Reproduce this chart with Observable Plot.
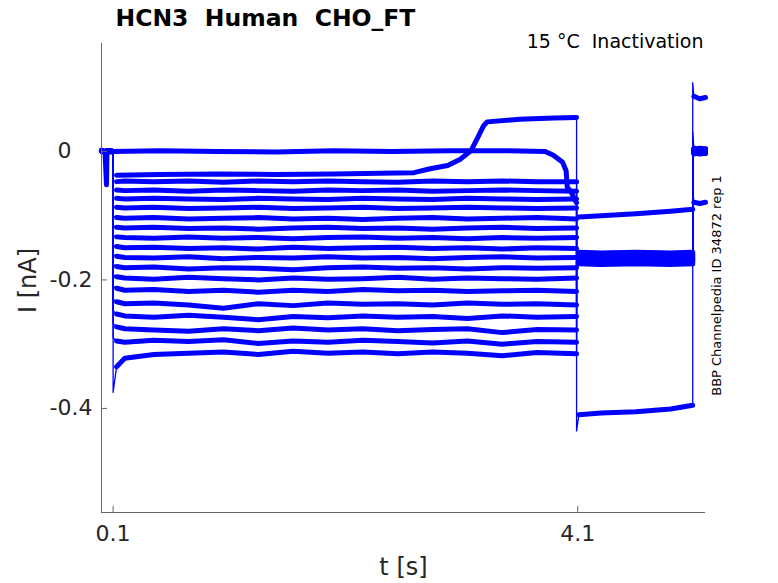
<!DOCTYPE html>
<html><head><meta charset="utf-8">
<script src="https://cdn.jsdelivr.net/npm/d3@7"></script>
<script src="https://cdn.jsdelivr.net/npm/@observablehq/plot@0.6"></script>
<style>
html,body{margin:0;padding:0;background:#fff;}
svg text{white-space:pre;}
</style></head><body><div id="chart"></div>
<script>
const titleText = "HCN3  Human  CHO_FT";
const subtitleText = "15 °C  Inactivation";
const sideText = "BBP Channelpedia ID 34872 rep 1";
const xLabel = "t [s]";
const yLabel = "I [nA]";
const xTicks = [0.1, 4.1];
const yTicks = [0, -0.2, -0.4];
const xDomain = [0, 5.2];
const yDomain = [-0.562, 0.168];

// holding segment before the step
const preT = [0, 0.03, 0.043, 0.047, 0.1];
const preFlat = [0.001, -0.001, 0.0, 0.001, 0.0];
const preDip = [0.002, 0.0, -0.052, -0.002, 0.0];

// trace A (stays near 0, falls before the step end)
const aTimes = [0.1, 0.5, 1.0, 1.5, 2.0, 2.5, 3.0, 3.5, 3.82, 3.89, 3.97, 4.0, 4.01, 4.04, 4.09];
const aLevels = [0.0, 0.001, 0.0, -0.001, 0.001, 0.0, 0.001, 0.001, 0.0, -0.006, -0.017, -0.03, -0.056, -0.062, -0.08];
// trace B (rises to a positive plateau)
const bTimes = [0.1, 0.13, 0.5, 1.0, 1.5, 2.0, 2.4, 2.69, 2.83, 2.98, 3.09, 3.18, 3.24, 3.29, 3.32, 3.6, 3.9, 4.09];
const bLevels = [-0.037, -0.037, -0.036, -0.035, -0.036, -0.035, -0.034, -0.033, -0.027, -0.022, -0.012, 0.001, 0.022, 0.04, 0.046, 0.05, 0.052, 0.053];

// remaining traces during the conditioning step
const tGrid = [0.1, 0.13, 0.2, 0.45, 0.75, 1.05, 1.35, 1.65, 1.95, 2.25, 2.55, 2.85, 3.15, 3.45, 3.75, 4.09];
const stepLevels = [
  [-0.046,-0.047,-0.046,-0.047,-0.046,-0.048,-0.046,-0.047,-0.046,-0.047,-0.048,-0.046,-0.047,-0.046,-0.047,-0.047],
  [-0.059,-0.060,-0.061,-0.060,-0.062,-0.060,-0.061,-0.062,-0.060,-0.061,-0.060,-0.062,-0.061,-0.060,-0.061,-0.062],
  [-0.072,-0.073,-0.074,-0.073,-0.074,-0.075,-0.073,-0.074,-0.075,-0.073,-0.074,-0.075,-0.073,-0.074,-0.075,-0.074],
  [-0.086,-0.087,-0.088,-0.087,-0.089,-0.088,-0.087,-0.089,-0.088,-0.087,-0.089,-0.088,-0.087,-0.088,-0.089,-0.088],
  [-0.101,-0.103,-0.104,-0.103,-0.105,-0.104,-0.103,-0.105,-0.104,-0.106,-0.104,-0.103,-0.105,-0.104,-0.103,-0.105],
  [-0.116,-0.118,-0.119,-0.118,-0.120,-0.119,-0.121,-0.119,-0.118,-0.120,-0.119,-0.121,-0.119,-0.118,-0.120,-0.119],
  [-0.131,-0.133,-0.134,-0.135,-0.133,-0.135,-0.134,-0.136,-0.134,-0.133,-0.135,-0.134,-0.136,-0.134,-0.135,-0.134],
  [-0.146,-0.148,-0.150,-0.149,-0.151,-0.150,-0.152,-0.149,-0.151,-0.150,-0.149,-0.151,-0.150,-0.152,-0.150,-0.151],
  [-0.161,-0.163,-0.165,-0.166,-0.164,-0.167,-0.165,-0.166,-0.164,-0.166,-0.165,-0.167,-0.165,-0.164,-0.166,-0.165],
  [-0.176,-0.179,-0.181,-0.180,-0.183,-0.181,-0.182,-0.184,-0.181,-0.180,-0.182,-0.181,-0.183,-0.181,-0.182,-0.181],
  [-0.192,-0.195,-0.197,-0.199,-0.196,-0.198,-0.200,-0.197,-0.199,-0.198,-0.196,-0.199,-0.197,-0.198,-0.199,-0.197],
  [-0.210,-0.213,-0.216,-0.215,-0.218,-0.216,-0.219,-0.216,-0.218,-0.215,-0.217,-0.216,-0.218,-0.217,-0.216,-0.218],
  [-0.230,-0.234,-0.237,-0.236,-0.239,-0.244,-0.237,-0.240,-0.236,-0.238,-0.237,-0.239,-0.236,-0.238,-0.237,-0.239],
  [-0.248,-0.253,-0.256,-0.258,-0.255,-0.258,-0.262,-0.257,-0.259,-0.256,-0.258,-0.257,-0.260,-0.256,-0.258,-0.257],
  [-0.268,-0.273,-0.276,-0.278,-0.280,-0.276,-0.279,-0.275,-0.278,-0.276,-0.279,-0.277,-0.276,-0.282,-0.277,-0.278],
  [-0.290,-0.295,-0.297,-0.294,-0.296,-0.293,-0.299,-0.295,-0.297,-0.294,-0.296,-0.298,-0.295,-0.300,-0.296,-0.297],
  [-0.375,-0.335,-0.322,-0.316,-0.314,-0.312,-0.316,-0.311,-0.314,-0.312,-0.315,-0.312,-0.314,-0.318,-0.313,-0.315]
];

// test step (rows: A, B, then the 17 others)
const tailT = [4.09, 4.11, 4.3, 4.6, 4.9, 5.09];
const tailLevels = [
  [-0.103,-0.102,-0.100,-0.097,-0.093,-0.090],
  [-0.435,-0.410,-0.407,-0.405,-0.401,-0.395],
  [-0.161,-0.157,-0.158,-0.157,-0.158,-0.157],
  [-0.164,-0.160,-0.161,-0.160,-0.161,-0.160],
  [-0.167,-0.163,-0.164,-0.163,-0.164,-0.163],
  [-0.170,-0.166,-0.167,-0.166,-0.167,-0.166],
  [-0.173,-0.169,-0.170,-0.169,-0.170,-0.169],
  [-0.176,-0.172,-0.173,-0.172,-0.173,-0.172],
  [-0.179,-0.175,-0.176,-0.175,-0.176,-0.175],
  [-0.162,-0.158,-0.159,-0.158,-0.159,-0.158],
  [-0.165,-0.161,-0.162,-0.161,-0.162,-0.161],
  [-0.168,-0.164,-0.165,-0.164,-0.165,-0.164],
  [-0.171,-0.167,-0.168,-0.167,-0.168,-0.167],
  [-0.174,-0.170,-0.171,-0.170,-0.171,-0.170],
  [-0.177,-0.173,-0.174,-0.173,-0.174,-0.173],
  [-0.163,-0.159,-0.160,-0.159,-0.160,-0.159],
  [-0.166,-0.162,-0.163,-0.162,-0.163,-0.162],
  [-0.169,-0.165,-0.166,-0.165,-0.166,-0.165],
  [-0.172,-0.168,-0.169,-0.168,-0.169,-0.168]
];

// after the test step
const postT = [5.09, 5.1, 5.15, 5.2];
const postLevels = [
  [-0.058,-0.079,-0.081,-0.079],
  [0.107,0.086,0.082,0.084],
  [0.030,0.004,0.002,0.003],
  [0.010,0.001,-0.001,0.000],
  [0.012,-0.002,-0.004,-0.003],
  [0.015,0.005,0.003,0.004],
  [0.008,0.000,0.002,0.001],
  [0.011,-0.003,-0.001,-0.002],
  [0.014,0.003,0.005,0.004],
  [0.009,-0.001,0.001,0.000],
  [0.013,0.002,0.000,0.001],
  [0.016,-0.004,-0.002,-0.003],
  [0.010,0.001,0.003,0.002],
  [0.012,-0.002,0.000,-0.001],
  [0.014,0.004,0.002,0.003],
  [0.011,0.000,-0.002,-0.001],
  [0.013,0.002,0.004,0.003],
  [0.015,-0.003,-0.001,-0.002],
  [0.020,0.001,-0.001,0.000]
];

const rows = [];
function addSeg(trace, seg, ts, vs, skipFirst) {
  ts.forEach((t, i) => rows.push({trace, seg, t, v: vs[i], edge: skipFirst && i === 0}));
}
const nTraces = 2 + stepLevels.length;
for (let k = 0; k < nTraces; k++) {
  addSeg(k, "pre", preT, k === 2 ? preDip : preFlat, false);
  if (k === 0) addSeg(k, "step", aTimes, aLevels, false);
  else if (k === 1) addSeg(k, "step", bTimes, bLevels, true);
  else addSeg(k, "step", tGrid, stepLevels[k - 2], true);
  addSeg(k, "tail", tailT, tailLevels[k], true);
  addSeg(k, "post", postT, postLevels[k], true);
}
const bandRows = rows.filter(d => !d.edge);

const blue = "#0000ff";
const axisGray = "#666666";
const textDark = "#262626";

const chart = Plot.plot({
  width: 778,
  height: 583,
  marginLeft: 101,
  marginRight: 73,
  marginTop: 43,
  marginBottom: 71,
  x: {domain: xDomain},
  y: {domain: yDomain},
  style: {fontFamily: "DejaVu Sans", background: "#fff", overflow: "visible"},
  marks: [
    Plot.line(rows, {x: "t", y: "v", z: "trace", stroke: blue, strokeWidth: 1.3}),
    Plot.line(bandRows, {x: "t", y: "v", z: d => d.trace + "-" + d.seg, stroke: blue, strokeWidth: 5, strokeLinejoin: "round"}),
    Plot.ruleX([xDomain[0]], {stroke: axisGray}),
    Plot.ruleY([yDomain[0]], {stroke: axisGray}),
    Plot.tickX(xTicks, {x: d => d, insetTop: 463, stroke: axisGray}),
    Plot.tickY(yTicks, {y: d => d, insetRight: 598, stroke: axisGray}),
    Plot.axisX({ticks: xTicks, tickSize: 0, tickPadding: 13, tickFormat: d => d.toFixed(1), fontSize: 22, fill: textDark, label: null}),
    Plot.axisY({ticks: yTicks, tickSize: 0, tickPadding: 9, tickFormat: d => d === 0 ? "0\u2007\u2008" : d.toFixed(1), fontSize: 22, fill: textDark, label: null}),
    Plot.text([xLabel], {text: d => d, frameAnchor: "bottom", dy: 55, fontSize: 24, fill: textDark, textAnchor: "middle", lineAnchor: "middle"}),
    Plot.text([yLabel], {text: d => d, frameAnchor: "left", dx: -73, dy: 2.5, rotate: -90, fontSize: 24, fill: textDark, textAnchor: "middle", lineAnchor: "middle"}),
    Plot.text([titleText], {text: d => d, frameAnchor: "top-left", dx: 14, dy: -25, textAnchor: "start", lineAnchor: "middle", fontSize: 23.5, fontWeight: "bold", fill: "#000"}),
    Plot.text([subtitleText], {text: d => d, frameAnchor: "top-right", dx: -2, dy: -2, textAnchor: "end", lineAnchor: "middle", fontSize: 19, fill: "#000"}),
    Plot.text([sideText], {text: d => d, frameAnchor: "right", dx: 11, dy: 7.5, rotate: -90, textAnchor: "middle", lineAnchor: "middle", fontSize: 13, fill: "#000"})
  ]
});
document.getElementById("chart").appendChild(chart);
</script>
</body></html>
